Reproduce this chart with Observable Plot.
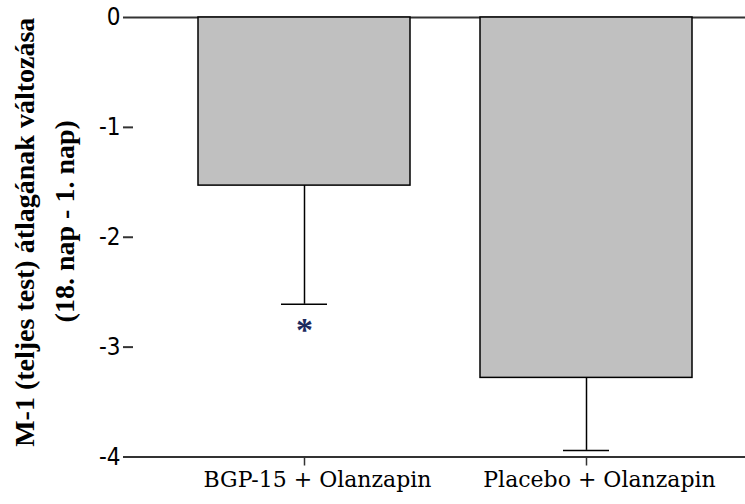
<!DOCTYPE html>
<html><head><meta charset="utf-8">
<script src="https://cdn.jsdelivr.net/npm/d3@7"></script>
<script src="https://cdn.jsdelivr.net/npm/@observablehq/plot@0.6"></script>
<style>
body{margin:0;background:#fff} svg{display:block}
g[aria-label="x-axis tick label"], g[aria-label="x-axis tick label"] text {font-family: "DejaVu Serif", serif !important; font-size: 22px !important;}
g[aria-label="y-axis tick label"], g[aria-label="y-axis tick label"] text {font-family: "Liberation Sans Narrow", "DejaVu Sans Condensed", "Liberation Sans", sans-serif !important; font-size: 24px !important;}
</style>
</head><body><div id="chart"></div>
<script>
const categories = ["BGP-15 + Olanzapin", "Placebo + Olanzapin"];
const means = [-1.53, -3.28];
const errors = [1.08, 0.66];
const markers = ["*", ""];
const yTicks = [0, -1, -2, -3, -4];
const yTitle1 = "M-1 (teljes test) átlagának változása";
const yTitle2 = "(18. nap - 1. nap)";

const data = categories.map((c, i) => ({cat: c, mean: means[i], low: means[i] - errors[i], mark: markers[i]}));

const chart = Plot.plot({
  width: 745,
  height: 504,
  marginLeft: 133,
  marginRight: 0,
  marginTop: 17,
  marginBottom: 47.5,
  style: {background: "#fff", color: "#000"},
  x: {domain: categories, range: [133.1, 756.9], paddingInner: 0.2482, paddingOuter: 0.23},
  y: {domain: [-4, 0]},
  marks: [
    Plot.ruleY([0, -4], {stroke: "#333", strokeWidth: 2}),
    Plot.barY(data, {x: "cat", y1: 0, y2: "mean", fill: "#c0c0c0", stroke: "#000", strokeWidth: 1.5}),
    Plot.ruleX(data, {x: "cat", y1: "mean", y2: "low", stroke: "#000", strokeWidth: 1.5}),
    Plot.tickY(data, {x: "cat", y: "low", insetLeft: 83, insetRight: 83, stroke: "#000", strokeWidth: 1.5}),
    Plot.text(data.filter(d => d.mark), {x: "cat", y: "low", text: "mark", dy: 26, fontSize: 34, fontWeight: "bold", fontFamily: "Liberation Serif", fill: "#1c2a5e"}),
    Plot.axisY({ticks: yTicks, tickFormat: d => String(d), tickSize: 10, tickPadding: 3, line: true, stroke: "#333", strokeWidth: 2, label: null}),
    Plot.axisX({tickSize: 9, tickPadding: 5, stroke: "#333", strokeWidth: 1.5, label: null}),
    Plot.text([yTitle1], {frameAnchor: "left", textAnchor: "middle", rotate: -90, dx: -108, dy: -5, fontSize: 28, fontWeight: "bold", fontFamily: "'Liberation Serif', serif", fill: "#000"}),
    Plot.text([yTitle2], {frameAnchor: "left", textAnchor: "middle", rotate: -90, dx: -68, dy: -16, fontSize: 28, fontWeight: "bold", fontFamily: "'Liberation Serif', serif", fill: "#000"})
  ]
});
d3.select(chart).selectAll('g[aria-label="x-axis tick label"] text')
  .attr("font-family", "DejaVu Serif")
  .attr("dx", 13);
document.getElementById("chart").append(chart);
</script>
</body></html>
